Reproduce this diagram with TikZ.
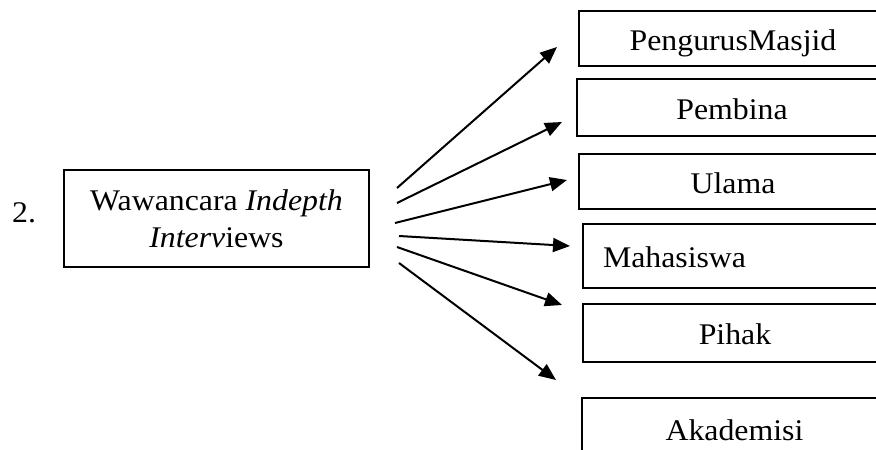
\documentclass[tikz,border=0pt]{standalone}
\usepackage{fontspec}
\setmainfont{Liberation Serif}[FakeStretch=1.06]
\usetikzlibrary{arrows.meta}
\begin{document}
\begin{tikzpicture}[x=1pt,y=-1pt,
  every node/.style={font=\fontsize{30}{37}\selectfont},
  rbox/.style={draw,line width=2pt,anchor=north west,inner ysep=0pt,inner xsep=0pt,
    text height=24pt,text depth=1pt},
  arr/.style={line width=2pt,-{Triangle[length=17pt,width=14pt]}}]
\useasboundingbox (0,0) rectangle (876,450);
\clip (0,0) rectangle (876,450);
% main box
\node[draw,line width=2pt,minimum width=305pt,minimum height=97pt,align=center,inner sep=0pt]
  (main) at (216.5,218.5) {Wawancara \textit{Indepth}\\\textit{Interv}iews};
\node[anchor=base west,inner sep=0pt] (num) at (12,222) {2.};
% right boxes
\node[rbox,minimum width=308pt,minimum height=55pt] (b1) at (578,10) {PengurusMasjid};
\node[rbox,minimum width=310pt,minimum height=57pt] (b2) at (576,78) {Pembina};
\node[rbox,minimum width=308pt,minimum height=55pt] (b3) at (578,153) {Ulama};
\node[rbox,text width=264pt,inner xsep=20pt,align=left,minimum height=64pt] (b4) at (582,223) {Mahasiswa};
\node[rbox,minimum width=304pt,minimum height=58pt] (b5) at (582,303) {Pihak};
\node[rbox,minimum width=305pt,minimum height=62pt] (b6) at (581,397) {Akademisi};
% arrow ends
\coordinate (s1) at (397,188); \coordinate (e1) at (557,47);
\coordinate (s2) at (397,203); \coordinate (e2) at (562,122);
\coordinate (s3) at (395,223); \coordinate (e3) at (567,180);
\coordinate (s4) at (399,236); \coordinate (e4) at (570,246);
\coordinate (s5) at (397,247); \coordinate (e5) at (562,305);
\coordinate (s6) at (399,263); \coordinate (e6) at (556,380);
\foreach \i in {1,...,6} {\draw[arr] (s\i) -- (e\i);}
\end{tikzpicture}
\end{document}
